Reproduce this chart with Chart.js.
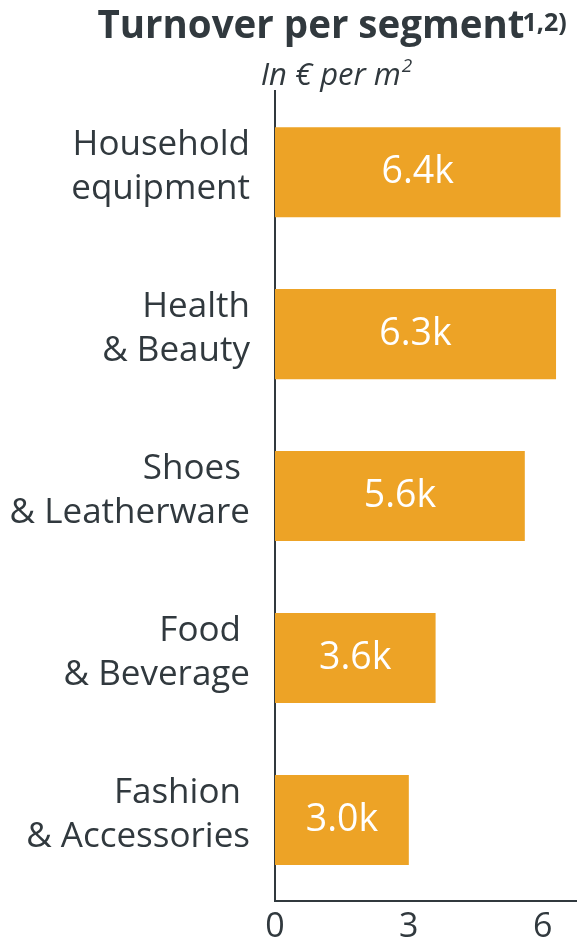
<!DOCTYPE html>
<html>
<head>
<meta charset="utf-8">
<script src="https://cdn.jsdelivr.net/npm/chart.js@4/dist/chart.umd.min.js"></script>
<style>
  html, body { margin: 0; padding: 0; background: #ffffff; }
  #wrap { width: 577px; height: 946px; position: relative; }
</style>
</head>
<body>
<div id="wrap"><canvas id="c"></canvas></div>
<script>
const categories = [
  ['Household', 'equipment'],
  ['Health', '& Beauty'],
  ['Shoes ', '& Leatherware'],
  ['Food ', '& Beverage'],
  ['Fashion ', '& Accessories']
];
const turnover = [6.4, 6.3, 5.6, 3.6, 3.0];
const valueLabels = ['6.4k', '6.3k', '5.6k', '3.6k', '3.0k'];
const xTicks = [0, 3, 6];
const titleText = 'Turnover per segment';
const titleSup = '1,2)';
const subtitleText = 'In € per m';
const subtitleSup = '2';

const FONT = '"Open Sans", sans-serif';
const DARK = '#31393e';
const BAR = '#EDA326';
const TITLE_SIZE = 38.5;

const headerPlugin = {
  id: 'header',
  afterLayout(chart) {
    const t = chart.titleBlock;
    if (t) { t.left = 45; t.right = chart.width; t.width = chart.width - 45; }
  },
  afterDraw(chart) {
    const ctx = chart.ctx;
    const t = chart.titleBlock;
    ctx.save();
    ctx.fillStyle = DARK;
    ctx.textAlign = 'left';
    ctx.textBaseline = 'alphabetic';
    ctx.font = 'bold ' + TITLE_SIZE + 'px ' + FONT;
    const tw = ctx.measureText(titleText).width;
    const cx = (t.left + t.right) / 2;
    ctx.font = 'bold 25px ' + FONT;
    ctx.fillText(titleSup, cx + tw / 2 - 2, 31);
    ctx.font = 'italic 31px ' + FONT;
    const sw = ctx.measureText(subtitleText).width;
    ctx.font = 'italic 19px ' + FONT;
    const supw = ctx.measureText(subtitleSup).width;
    const sx = 336 - (sw + supw) / 2;
    ctx.font = 'italic 31px ' + FONT;
    ctx.fillText(subtitleText, sx, 85);
    ctx.font = 'italic 19px ' + FONT;
    ctx.fillText(subtitleSup, sx + sw + 1, 72);
    ctx.restore();
  }
};

const barLabelPlugin = {
  id: 'barLabels',
  afterDatasetsDraw(chart) {
    const ctx = chart.ctx;
    const meta = chart.getDatasetMeta(0);
    ctx.save();
    ctx.fillStyle = '#ffffff';
    ctx.font = '37.5px ' + FONT;
    ctx.textAlign = 'center';
    ctx.textBaseline = 'middle';
    meta.data.forEach((bar, i) => {
      const x = (bar.base + bar.x) / 2;
      ctx.fillText(valueLabels[i], x, bar.y);
    });
    ctx.restore();
  }
};

new Chart(document.getElementById('c'), {
  type: 'bar',
  data: {
    labels: categories,
    datasets: [{
      data: turnover,
      backgroundColor: BAR,
      borderWidth: 0,
      barPercentage: 0.556,
      categoryPercentage: 1.0
    }]
  },
  options: {
    indexAxis: 'y',
    responsive: true,
    maintainAspectRatio: false,
    animation: false,
    layout: { padding: { left: 0, right: 0, top: 0, bottom: 0 } },
    plugins: {
      legend: { display: false },
      tooltip: { enabled: false },
      title: {
        display: true,
        text: titleText,
        color: DARK,
        font: { family: FONT, size: TITLE_SIZE, weight: 'bold', lineHeight: 1.2 },
        padding: { top: 4, bottom: 41 }
      }
    },
    scales: {
      x: {
        min: 0,
        max: 6.77,
        afterBuildTicks(scale) { scale.ticks = xTicks.map(v => ({ value: v })); },
        afterFit(scale) { scale.height = 45; scale.paddingLeft = 0; scale.paddingRight = 0; },
        grid: { display: false, drawTicks: false },
        border: { display: true, color: DARK, width: 2 },
        ticks: {
          color: DARK,
          font: { family: FONT, size: 34 },
          padding: 6,
          maxRotation: 0
        }
      },
      y: {
        grid: { display: false, drawTicks: false },
        border: { display: true, color: DARK, width: 2 },
        afterFit(scale) { scale.width = 275; scale.paddingTop = 0; scale.paddingBottom = 0; },
        ticks: {
          color: DARK,
          font: { family: FONT, size: 35, lineHeight: 1.27 },
          padding: 25,
          labelOffset: -5
        }
      }
    }
  },
  plugins: [headerPlugin, barLabelPlugin]
});
</script>
</body>
</html>
